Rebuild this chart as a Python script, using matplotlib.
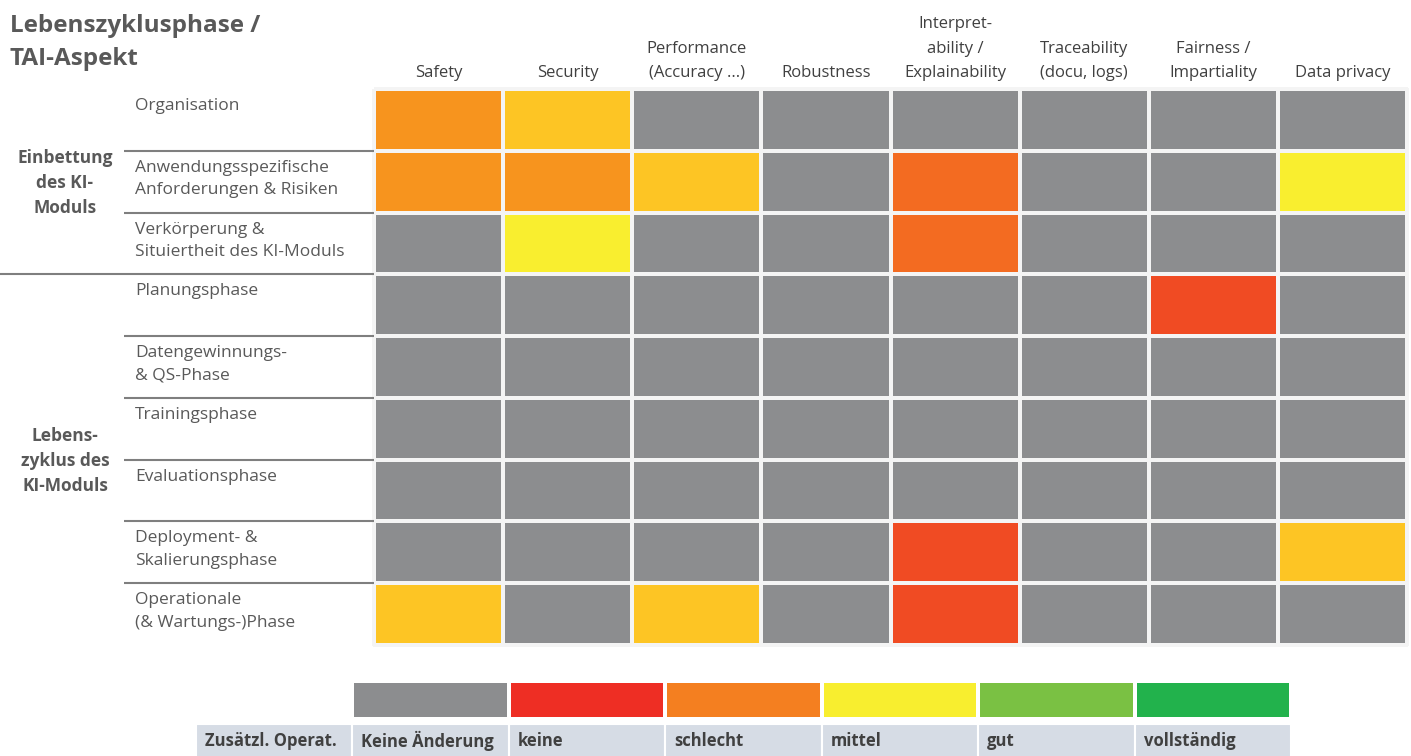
import numpy as np
import matplotlib.pyplot as plt
from matplotlib.colors import ListedColormap

plt.rcParams['font.family'] = ['Open Sans', 'DejaVu Sans']

aspects = ['Safety', 'Security', 'Performance\n(Accuracy ...)', 'Robustness',
           'Interpret-\nability /\nExplainability', 'Traceability\n(docu, logs)',
           'Fairness /\nImpartiality', 'Data privacy']
phases = ['Organisation', 'Anwendungsspezifische\nAnforderungen & Risiken',
          'Verkörperung &\nSituiertheit des KI-Moduls', 'Planungsphase',
          'Datengewinnungs-\n& QS-Phase', 'Trainingsphase', 'Evaluationsphase',
          'Deployment- &\nSkalierungsphase', 'Operationale\n(& Wartungs-)Phase']
groups = ['Einbettung\ndes KI-\nModuls', 'Lebens-\nzyklus des\nKI-Moduls']
group_rows = [(0, 3), (3, 9)]

# colour codes: 0 grey, 1 red, 2 deep orange, 3 orange, 4 amber, 5 yellow
cell_colors = ['#8C8D8F', '#F04B23', '#F36B21', '#F7941E', '#FDC524', '#F9EE2F']
codes = [
    [3, 4, 0, 0, 0, 0, 0, 0],
    [3, 3, 4, 0, 2, 0, 0, 5],
    [0, 5, 0, 0, 2, 0, 0, 0],
    [0, 0, 0, 0, 0, 0, 1, 0],
    [0, 0, 0, 0, 0, 0, 0, 0],
    [0, 0, 0, 0, 0, 0, 0, 0],
    [0, 0, 0, 0, 0, 0, 0, 0],
    [0, 0, 0, 0, 1, 0, 0, 4],
    [4, 0, 4, 0, 1, 0, 0, 0],
]

legend_labels = ['Keine Änderung', 'keine', 'schlecht', 'mittel', 'gut', 'vollständig']
legend_colors = ['#8C8D8F', '#EE2E24', '#F47F20', '#F8EE2F', '#7AC143', '#22B24C']
legend_head = 'Zusätzl. Operat.'

fig = plt.figure(figsize=(14.11, 7.56), dpi=100)
ax = fig.add_axes([0, 0, 1, 1])
ax.set_xlim(0, 1411)
ax.set_ylim(756, 0)
ax.axis('off')

txt = '#595959'

# matrix
xe = np.linspace(374, 1407, len(aspects) + 1)
ye = np.linspace(89, 645, len(phases) + 1)
ax.pcolormesh(xe, ye, np.array(codes), cmap=ListedColormap(cell_colors),
              vmin=-0.5, vmax=len(cell_colors) - 0.5,
              edgecolors='#F4F4F4', linewidth=1.5)

xc = (xe[:-1] + xe[1:]) / 2
for x, lab in zip(xc, aspects):
    ax.text(x, 81, lab, ha='center', va='bottom', fontsize=12, color='#404040',
            linespacing=1.7)

for i, lab in enumerate(phases):
    ax.text(135, ye[i] + 9, lab, ha='left', va='top', fontsize=12.5, color=txt,
            linespacing=1.55)

# separators in the label column
for i in range(1, len(phases)):
    if i == group_rows[1][0]:
        ax.hlines(ye[i], 0, xe[0], color='#7F7F7F', lw=1.5)
    else:
        ax.hlines(ye[i], 124, xe[0], color='#7F7F7F', lw=1.5)

for lab, (a, b) in zip(groups, group_rows):
    ax.text(65, (ye[a] + ye[b]) / 2 + 1.5, lab, ha='center', va='center',
            fontsize=12.5, fontweight='bold', color=txt, linespacing=1.5)

ax.text(10, 14, 'Lebenszyklusphase /\nTAI-Aspekt', ha='left', va='top',
        fontsize=17.5, fontweight='bold', color=txt, linespacing=1.5)

# legend
lx = np.linspace(352, 1291, len(legend_labels) + 1)
ax.pcolormesh(lx, [681, 719], np.arange(len(legend_colors))[None, :],
              cmap=ListedColormap(legend_colors), vmin=-0.5,
              vmax=len(legend_colors) - 0.5, edgecolors='white', linewidth=1.5)

cell_left = np.concatenate([[196], lx[:-1]])
cell_w = np.diff(np.concatenate([[196], lx]))
ax.bar(cell_left, 34, width=cell_w, bottom=724, align='edge', color='#D6DCE5',
       edgecolor='white', linewidth=1.5)
for x, lab in zip(cell_left, [legend_head] + legend_labels):
    ax.text(x + 9, 741, lab, ha='left', va='center', fontsize=12,
            fontweight='bold', color='#404040')

fig.savefig('out.png', dpi=100)
